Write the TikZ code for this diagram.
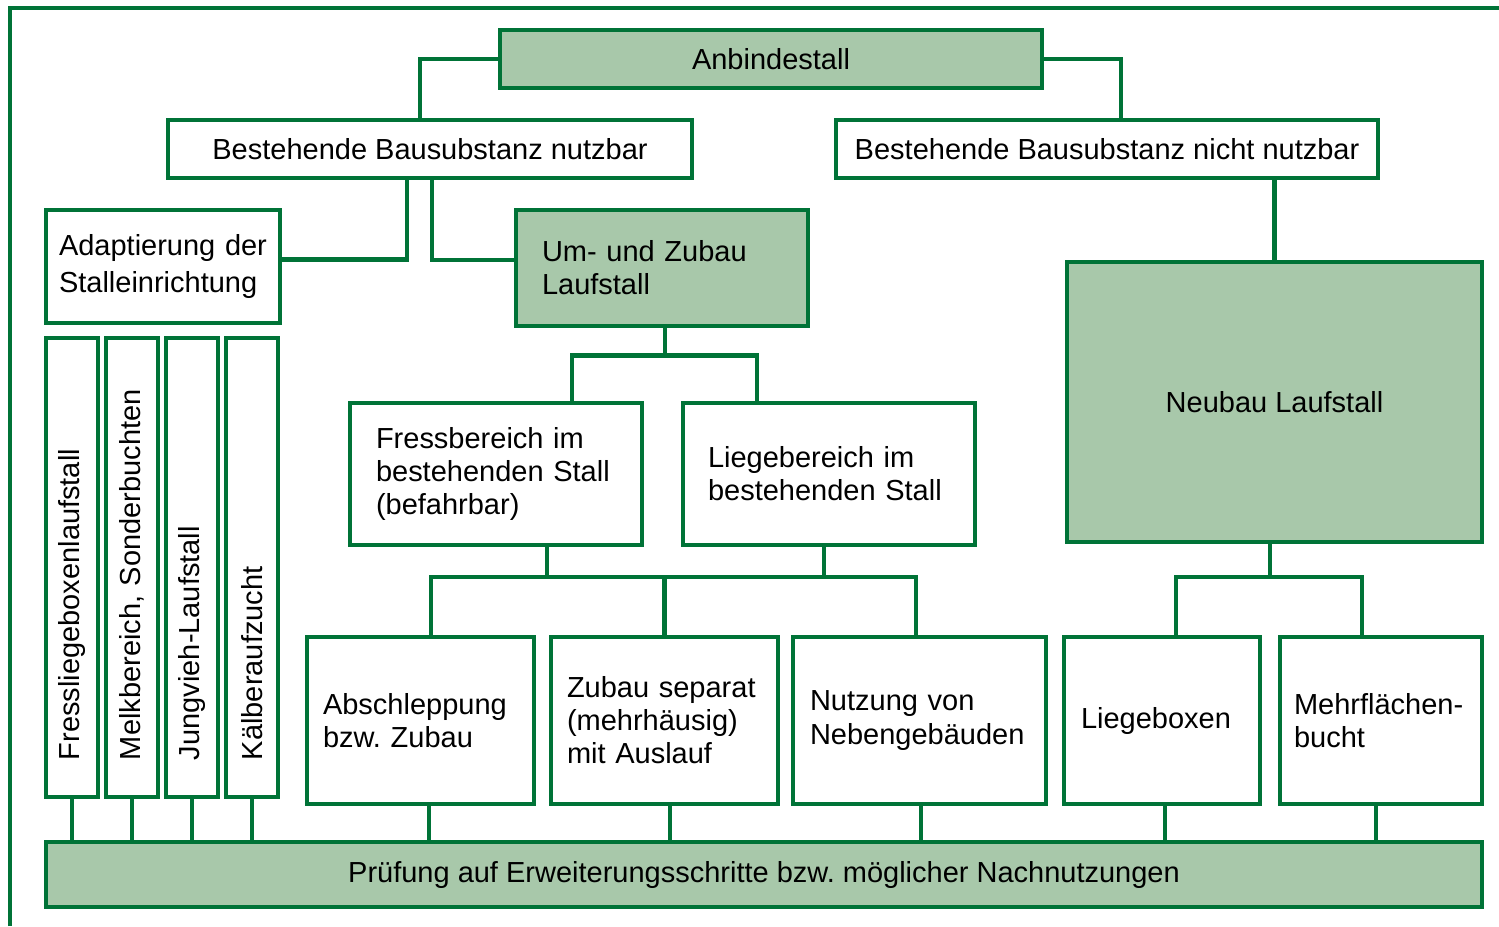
\documentclass[tikz,border=0pt]{standalone}
\usepackage{fontspec}
\setmainfont{Liberation Sans}
\definecolor{dkgreen}{RGB}{0,115,55}
\definecolor{ltgreen}{RGB}{168,200,170}
\tikzset{
  box/.style={draw=dkgreen, line width=1.1pt, fill=white, inner ysep=0pt, font=\fontsize{8.25}{9.4}\selectfont},
  gbox/.style={box, fill=ltgreen},
  con/.style={draw=dkgreen, line width=1.4pt},
}
\frenchspacing

\begin{document}
\begin{tikzpicture}
\useasboundingbox (0,0) rectangle (14.99,-9.26);
\draw [dkgreen, line width=1.1pt] (0.10,-9.26) -- (0.10,-0.08) -- (14.99,-0.08);
% top rows
\node [gbox, minimum width=5.42cm, minimum height=0.58cm] (anb) at (7.71,-0.59) {Anbindestall};
\node [box, minimum width=5.24cm, minimum height=0.58cm] (nutz) at (4.30,-1.49) {Bestehende Bausubstanz nutzbar};
\node [box, minimum width=5.42cm, minimum height=0.58cm] (nicht) at (11.07,-1.49) {Bestehende Bausubstanz nicht nutzbar};
\node [box, text width=2.08cm, inner xsep=0.13cm, minimum height=1.13cm, align=left, font=\fontsize{8.25}{10.4}\selectfont] (adapt) at (1.63,-2.665) {Adaptierung der Stalleinrichtung};
\node [gbox, text width=2.40cm, inner xsep=0.26cm, minimum height=1.16cm, align=left] (umzu) at (6.62,-2.68) {Um- und Zubau\\Laufstall};
\node [gbox, minimum width=4.15cm, minimum height=2.80cm] (neu) at (12.745,-4.02) {Neubau Laufstall};
\node [box, text width=2.40cm, inner xsep=0.26cm, minimum height=1.42cm, align=left] (fress) at (4.96,-4.74) {Fressbereich im bestehenden Stall (befahrbar)};
\node [box, text width=2.42cm, inner xsep=0.25cm, minimum height=1.42cm, align=left] (liege) at (8.29,-4.74) {Liegebereich im bestehenden Stall};
% vertical boxes
\node [box, rotate=90, text width=3.85cm, inner xsep=0.37cm, minimum height=0.52cm, align=left] (v1) at (0.72,-5.675) {Fressliegeboxenlaufstall};
\node [box, rotate=90, text width=3.85cm, inner xsep=0.37cm, minimum height=0.52cm, align=left] (v2) at (1.32,-5.675) {Melkbereich, Sonderbuchten};
\node [box, rotate=90, text width=3.85cm, inner xsep=0.37cm, minimum height=0.52cm, align=left] (v3) at (1.92,-5.675) {Jungvieh-Laufstall};
\node [box, rotate=90, text width=3.85cm, inner xsep=0.37cm, minimum height=0.52cm, align=left] (v4) at (2.52,-5.675) {Kälberaufzucht};
% lower row
\node [box, text width=1.95cm, inner xsep=0.16cm, minimum height=1.67cm, align=left] (absch) at (4.205,-7.205) {Abschleppung bzw. Zubau};
\node [box, text width=1.95cm, inner xsep=0.16cm, minimum height=1.67cm, align=left] (zusep) at (6.645,-7.205) {Zubau separat (mehrhäusig) mit Auslauf};
\node [box, text width=2.19cm, inner xsep=0.17cm, minimum height=1.67cm, align=left] (nneb) at (9.195,-7.205) {Nutzung von Nebengebäuden};
\node [box, text width=1.62cm, inner xsep=0.17cm, minimum height=1.67cm, align=left] (lbox) at (11.62,-7.205) {Liegeboxen};
\node [box, text width=1.74cm, inner xsep=0.14cm, minimum height=1.67cm, align=left] (mfb) at (13.81,-7.205) {Mehrflächen-\\bucht};
\node [gbox, minimum width=14.36cm, minimum height=0.65cm] (pr) at (7.64,-8.745) {Prüfung auf Erweiterungsschritte bzw. möglicher Nachnutzungen};
% connectors
\coordinate (bus1) at (0,-5.77);
\draw [con] (anb.west) -| ([xshift=-0.10cm]nutz.north);
\draw [con] (anb.east) -| ([xshift=0.14cm]nicht.north);
\draw [con] ([xshift=-0.23cm]nutz.south) |- ([yshift=0.07cm]adapt.east);
\draw [con] ([xshift=0.02cm]nutz.south) |- ([yshift=0.08cm]umzu.west);
\draw [con] (neu.north) -- (neu.north |- nicht.south);
\draw [con] ([xshift=0.03cm]umzu.south) -- ++(0,-0.28) coordinate (j1);
\draw [con] ([xshift=0.76cm]fress.north) |- (j1) -| ([xshift=-0.72cm]liege.north);
\draw [con] ([xshift=5.1mm]fress.south) coordinate (f1) -- (f1 |- bus1);
\draw [con] ([xshift=-0.5mm]liege.south) coordinate (l1) -- (l1 |- bus1);
\path ([xshift=1.05mm]absch.north) coordinate (a1) ([xshift=-0.35mm]nneb.north) coordinate (n1);
\draw [con] (a1) |- (bus1 -| n1) -- (n1);
\draw [con] (zusep.north) -- (zusep.north |- bus1);
\draw [con] ([xshift=-0.45mm]neu.south) coordinate (n2) -- (n2 |- bus1);
\path ([xshift=1.4mm]lbox.north) coordinate (b1) ([xshift=-1.9mm]mfb.north) coordinate (m1);
\draw [con] (b1) |- (bus1 -| m1) -- (m1);
\draw [con] (v1.west) -- (v1.west |- pr.north);
\draw [con] (v2.west) -- (v2.west |- pr.north);
\draw [con] (v3.west) -- (v3.west |- pr.north);
\draw [con] (v4.west) -- (v4.west |- pr.north);
\draw [con] ([xshift=0.85mm]absch.south) coordinate (a2) -- (a2 |- pr.north);
\draw [con] ([xshift=0.55mm]zusep.south) coordinate (z2) -- (z2 |- pr.north);
\draw [con] ([xshift=0.15mm]nneb.south) coordinate (n3) -- (n3 |- pr.north);
\draw [con] ([xshift=0.3mm]lbox.south) coordinate (b2) -- (b2 |- pr.north);
\draw [con] ([xshift=-0.5mm]mfb.south) coordinate (m2) -- (m2 |- pr.north);
\end{tikzpicture}
\end{document}
